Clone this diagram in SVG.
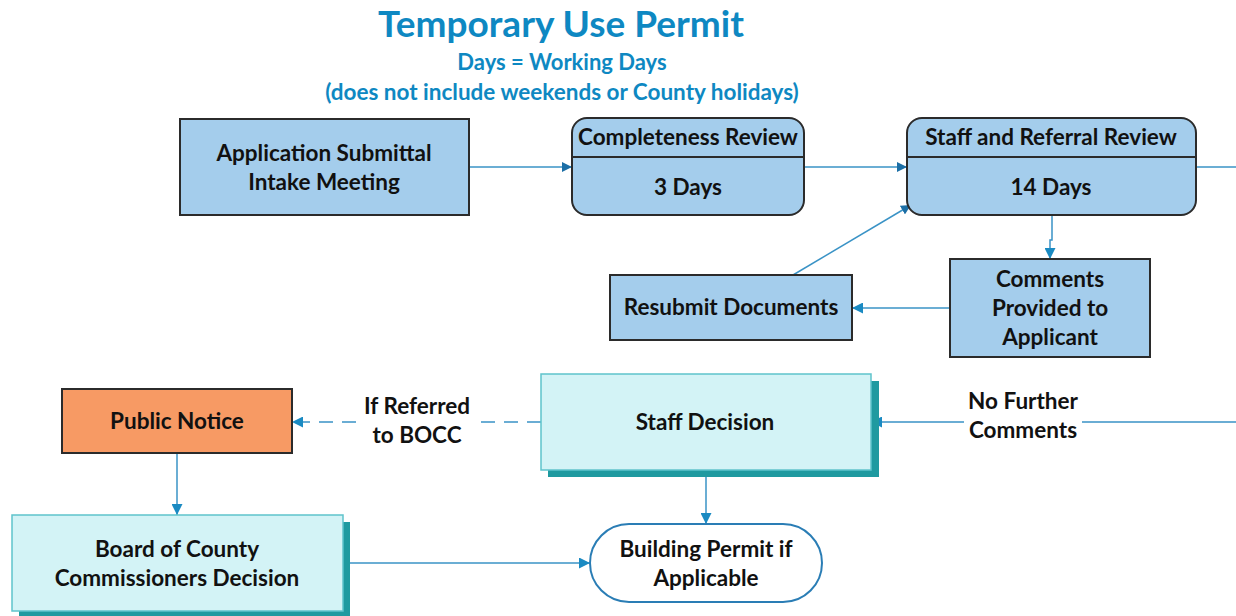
<svg xmlns="http://www.w3.org/2000/svg" width="1236" height="616" viewBox="0 0 1236 616">
<style>
text{font-family:Lato,"Open Sans","Liberation Sans",sans-serif;font-weight:bold;text-anchor:middle;fill:#111}
.t{fill:#0e88c2}
.blue{fill:#a4cdec;stroke:#2b2b2b;stroke-width:2}
.cyan{fill:#d3f3f6;stroke:#5fc3cb;stroke-width:1.5}
.sh{fill:#1f9aa0}
.c{fill:none;stroke:#3a93c6;stroke-width:1.5}
.lbl{font-size:22.5px}
</style>
<defs>
<marker id="a" viewBox="0 0 10 10" refX="10" refY="5" markerWidth="10" markerHeight="10" markerUnits="userSpaceOnUse" orient="auto">
<path d="M0,0 L10,5 L0,10 z" fill="#1c6fa6"/>
</marker>
<marker id="b" viewBox="0 0 10 10" refX="10" refY="5" markerWidth="11" markerHeight="11" markerUnits="userSpaceOnUse" orient="auto">
<path d="M0,0 L10,5 L0,10 z" fill="#1a8ac2"/>
</marker>
</defs>
<rect width="1236" height="616" fill="#fff"/>
<g id="title">
<text class="t" x="561" y="37" font-size="37">Temporary Use Permit</text>
<text class="t" x="562" y="70" font-size="22">Days = Working Days</text>
<text class="t" x="562" y="100" font-size="22.5">(does not include weekends or County holidays)</text>
</g>
<g id="connectors">
<path class="c" d="M469,167 H572" marker-end="url(#a)"/>
<path class="c" d="M804,167 H907" marker-end="url(#a)"/>
<path class="c" d="M1196,167 H1236"/>
<path class="c" d="M1052,216 V240 H1050 V259" marker-end="url(#b)"/>
<path class="c" d="M950,308 H852" marker-end="url(#b)"/>
<path class="c" d="M793,275 L911,205" marker-end="url(#a)"/>
<path class="c" d="M1236,422 H1082 M964,422 H871" marker-end="url(#b)"/>
<path class="c" d="M541,422 H478 M356,422 H292" stroke-dasharray="14,9" stroke-width="2.2" marker-end="url(#b)"/>
<path class="c" d="M177,453 V515" marker-end="url(#b)"/>
<path class="c" d="M343,563 H590" marker-end="url(#b)"/>
<path class="c" d="M706,470 V524" marker-end="url(#b)"/>
<text class="lbl" x="417" y="414">If Referred</text>
<text class="lbl" x="417" y="443">to BOCC</text>
<text class="lbl" x="1023" y="409">No Further</text>
<text class="lbl" x="1023" y="438">Comments</text>
</g>
<g id="application">
<rect class="blue" x="180" y="119" width="289" height="96"/>
<text class="lbl" x="324" y="161">Application Submittal</text>
<text class="lbl" x="324" y="190">Intake Meeting</text>
</g>
<g id="completeness">
<rect class="blue" x="572" y="118" width="232" height="97" rx="15"/>
<line x1="572" y1="157" x2="804" y2="157" stroke="#2b2b2b" stroke-width="2"/>
<text class="lbl" x="688" y="145">Completeness Review</text>
<text class="lbl" x="688" y="195">3 Days</text>
</g>
<g id="staffreview">
<rect class="blue" x="907" y="118" width="289" height="97" rx="15"/>
<line x1="907" y1="157" x2="1196" y2="157" stroke="#2b2b2b" stroke-width="2"/>
<text class="lbl" x="1051" y="145">Staff and Referral Review</text>
<text class="lbl" x="1051" y="195">14 Days</text>
</g>
<g id="comments">
<rect class="blue" x="950" y="259" width="200" height="98"/>
<text class="lbl" x="1050" y="287">Comments</text>
<text class="lbl" x="1050" y="316">Provided to</text>
<text class="lbl" x="1050" y="345">Applicant</text>
</g>
<g id="resubmit">
<rect class="blue" x="610" y="275" width="242" height="65"/>
<text class="lbl" x="731" y="315">Resubmit Documents</text>
</g>
<g id="publicnotice">
<rect x="62" y="389" width="230" height="64" fill="#f79a64" stroke="#2b2b2b" stroke-width="2"/>
<text class="lbl" x="177" y="429">Public Notice</text>
</g>
<g id="staffdecision">
<rect class="sh" x="548" y="381" width="331" height="96"/>
<rect class="cyan" x="541" y="374" width="330" height="96"/>
<text class="lbl" x="705" y="430">Staff Decision</text>
</g>
<g id="board">
<rect class="sh" x="19" y="522" width="331" height="96"/>
<rect class="cyan" x="12" y="515" width="331" height="96"/>
<text class="lbl" x="177" y="557">Board of County</text>
<text class="lbl" x="177" y="586">Commissioners Decision</text>
</g>
<g id="buildingpermit">
<rect x="590" y="524" width="232" height="78" rx="39" fill="#fff" stroke="#2a7db5" stroke-width="2"/>
<text class="lbl" x="706" y="557">Building Permit if</text>
<text class="lbl" x="706" y="586">Applicable</text>
</g>
</svg>
